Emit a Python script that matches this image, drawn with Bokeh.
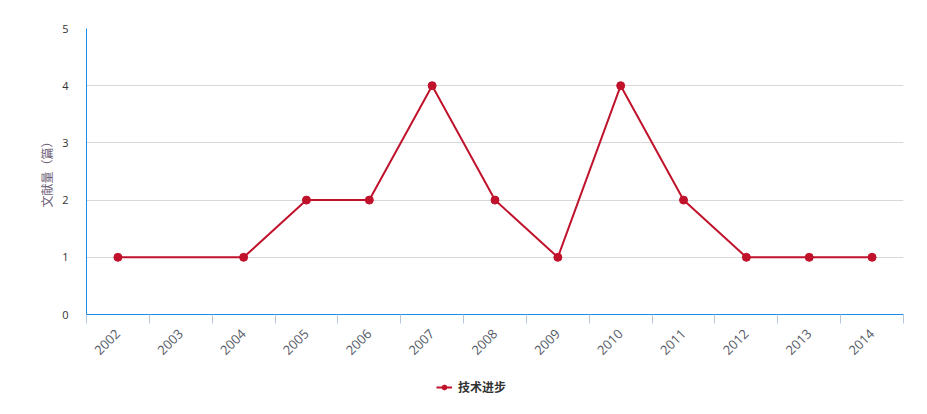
from bokeh.plotting import figure
from bokeh.layouts import column
from bokeh.models import FixedTicker, Range1d, Legend, LegendItem, ColumnDataSource
from bokeh.embed import file_html
from bokeh.resources import INLINE

years = ["2002", "2003", "2004", "2005", "2006", "2007", "2008", "2009",
         "2010", "2011", "2012", "2013", "2014"]
series_years = ["2002", "2004", "2005", "2006", "2007", "2008", "2009",
                "2010", "2011", "2012", "2013", "2014"]
counts = [1, 1, 2, 2, 4, 2, 1, 4, 2, 1, 1, 1]
series_name = "技术进步"
y_title = "文献量（篇）"
y_ticks = [0, 1, 2, 3, 4, 5]

xpos = [years.index(y) + 0.5 for y in series_years]
src = ColumnDataSource(dict(x=xpos, y=counts))

color = "#c1122c"

p = figure(width=919, height=372, output_backend="svg", toolbar_location=None,
           x_range=Range1d(0, len(years)), y_range=Range1d(0, 5),
           min_border_left=86, min_border_right=16, min_border_top=28,
           min_border_bottom=58)
p.outline_line_color = None
p.background_fill_color = "white"

ln = p.line("x", "y", source=src, line_color=color, line_width=2)
pt = p.scatter("x", "y", source=src, size=8, fill_color=color, line_color=color)

xa = p.xaxis[0]
xa.ticker = FixedTicker(ticks=[i + 0.5 for i in range(len(years))],
                        minor_ticks=list(range(len(years) + 1)))
xa.major_label_overrides = {i + 0.5: y for i, y in enumerate(years)}
xa.major_label_orientation = 0.785
xa.major_tick_line_color = None
xa.minor_tick_line_color = "#b7c6d6"
xa.minor_tick_in = 0
xa.minor_tick_out = 9
xa.axis_line_color = "#1e8ce6"
xa.axis_line_width = 1
xa.major_label_text_font = "Open Sans"
xa.major_label_text_font_size = "13px"
xa.major_label_text_color = "#555a66"
xa.major_label_standoff = 8

ya = p.yaxis[0]
ya.ticker = FixedTicker(ticks=y_ticks)
ya.major_tick_line_color = None
ya.minor_tick_line_color = None
ya.axis_line_color = "#1e8ce6"
ya.major_label_text_font = "Open Sans"
ya.major_label_text_font_size = "11px"
ya.major_label_text_color = "#333333"
ya.major_label_standoff = 12
ya.axis_label = y_title
ya.axis_label_text_font = "Noto Sans CJK SC"
ya.axis_label_text_font_size = "12px"
ya.axis_label_text_font_style = "normal"
ya.axis_label_text_color = "#6d5f78"
ya.axis_label_standoff = 4

p.xgrid.grid_line_color = None
p.ygrid.grid_line_color = "#d8d8d8"
p.ygrid.ticker = FixedTicker(ticks=y_ticks)

# legend strip below the chart (series drawn out of view; only its legend shows)
lg = figure(width=919, height=34, output_backend="svg", toolbar_location=None,
            x_range=Range1d(0, 1), y_range=Range1d(100, 101),
            min_border=0, x_axis_location=None, y_axis_location=None)
lg.outline_line_color = None
lg.xgrid.visible = False
lg.ygrid.visible = False
l_ln = lg.line("x", "y", source=src, line_color=color, line_width=2)
l_pt = lg.scatter("x", "y", source=src, size=8, fill_color=color, line_color=color)

legend = Legend(items=[LegendItem(label=series_name, renderers=[l_ln, l_pt])],
                orientation="horizontal", location=(350, 11),
                label_text_font="Noto Sans CJK SC", label_text_font_size="12px",
                label_text_font_style="bold", label_text_color="#333333",
                border_line_color=None, background_fill_alpha=0,
                glyph_width=16, glyph_height=12, label_height=12,
                padding=0, margin=0, label_standoff=6)
lg.add_layout(legend, "center")

open("out.html", "w").write(file_html(column(p, lg), INLINE))
